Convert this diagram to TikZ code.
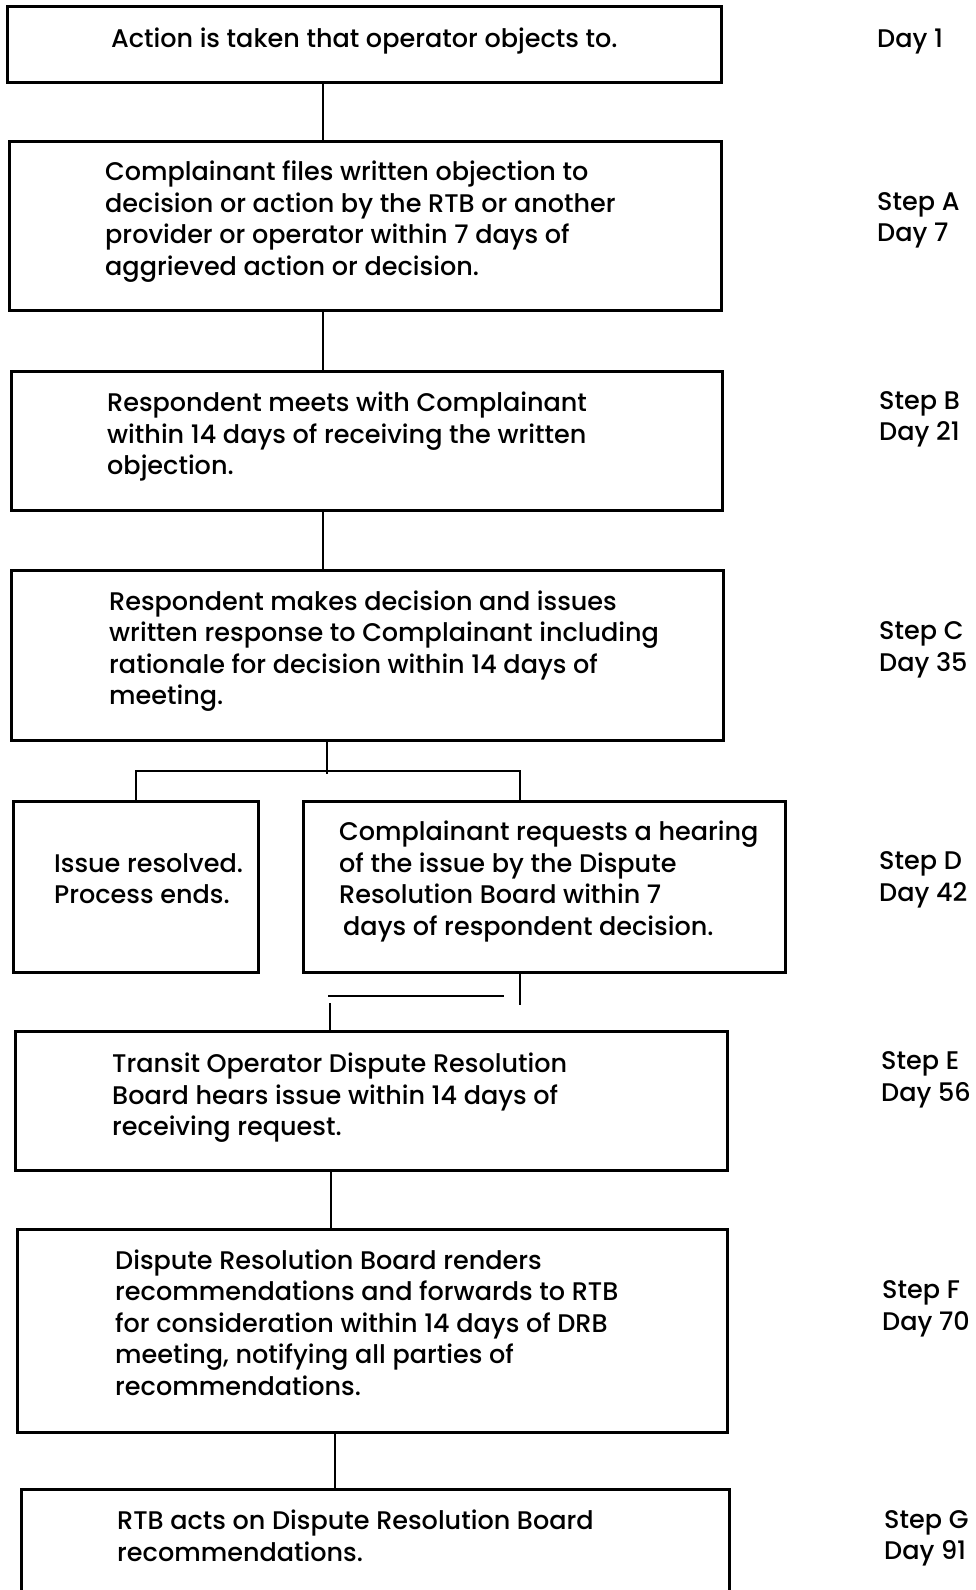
\documentclass[tikz,border=0pt]{standalone}
\usepackage{fontspec}
\setmainfont{Poppins}[UprightFont={* Medium}]
\begin{document}
\begin{tikzpicture}[x=1pt,y=-1pt,
  box/.style={draw, line width=2.5pt, inner sep=0pt, anchor=north west},
  txt/.style={align=left, inner sep=0pt, anchor=west, font=\fontsize{25.5}{31.5}\selectfont},
  lbl/.style={align=left, inner sep=0pt, anchor=west, font=\fontsize{25.5}{31.5}\selectfont},
  link/.style={line width=2.5pt}]
\useasboundingbox (0,0) rectangle (976,1590);
\clip (0,0) rectangle (976,1590);

% boxes
\node[box, minimum width=714pt, minimum height=76pt]  (s0)  at (6,5)     {};
\node[box, minimum width=712pt, minimum height=169pt] (sA)  at (8,140)   {};
\node[box, minimum width=711pt, minimum height=139pt] (sB)  at (10,370)  {};
\node[box, minimum width=712pt, minimum height=170pt] (sC)  at (10,569)  {};
\node[box, minimum width=245pt, minimum height=171pt] (sD1) at (12,800)  {};
\node[box, minimum width=482pt, minimum height=171pt] (sD2) at (302,800) {};
\node[box, minimum width=712pt, minimum height=139pt] (sE)  at (14,1030) {};
\node[box, minimum width=710pt, minimum height=203pt] (sF)  at (16,1228) {};
\node[box, minimum width=708pt, minimum height=160pt] (sG)  at (20,1488) {};

% box texts
\node[txt, anchor=center] (t0) at ([yshift=3pt]s0.center) {Action is taken that operator objects to.};
\node[txt] (tA) at ([xshift=97pt,yshift=4pt]sA.west) {Complainant files written objection to\\decision or action by the RTB or another\\provider or operator within 7 days of\\aggrieved action or decision.};
\node[txt] (tB) at ([xshift=97pt,yshift=4pt]sB.west) {Respondent meets with Complainant\\within 14 days of receiving the written\\objection.};
\node[txt] (tC) at ([xshift=99pt,yshift=4pt]sC.west) {Respondent makes decision and issues\\written response to Complainant including\\rationale for decision within 14 days of\\meeting.};
\node[txt] (tD1) at ([xshift=42pt,yshift=8pt]sD1.west) {Issue resolved.\\Process ends.};
\node[txt] (tD2) at ([xshift=37pt,yshift=5pt]sD2.west) {Complainant requests a hearing\\of the issue by the Dispute\\Resolution Board within 7\\\hspace*{4pt}days of respondent decision.};
\node[txt] (tE) at ([xshift=98pt,yshift=3pt]sE.west) {Transit Operator Dispute Resolution\\Board hears issue within 14 days of\\receiving request.};
\node[txt] (tF) at ([xshift=99pt,yshift=8pt]sF.west) {Dispute Resolution Board renders\\recommendations and forwards to RTB\\for consideration within 14 days of DRB\\meeting, notifying all parties of\\recommendations.};
\node[txt, anchor=north west] (tG) at ([xshift=97pt,yshift=-22pt]sG.north west) {RTB acts on Dispute Resolution Board\\recommendations.};

% step / day labels
\node[lbl] (l0) at (877,42)     {Day 1};
\node[lbl] (lA) at (877,220.5)  {Step A\\Day 7};
\node[lbl] (lB) at (879,419.5)  {Step B\\Day 21};
\node[lbl] (lC) at (879,650)    {Step C\\Day 35};
\node[lbl] (lD) at (879,880)    {Step D\\Day 42};
\node[lbl] (lE) at (881,1080)   {Step E\\Day 56};
\node[lbl] (lF) at (882,1309)   {Step F\\Day 70};
\node[lbl] (lG) at (884,1538.5) {Step G\\Day 91};

% connectors
\draw[link] ([xshift=317pt]s0.south west) -- ([xshift=315pt]sA.north west);
\draw[link] ([xshift=315pt]sA.south west) -- ([xshift=313pt]sB.north west);
\draw[link] ([xshift=313pt]sB.south west) -- ([xshift=313pt]sC.north west);
\draw[link] ([xshift=317pt]sC.south west) -- ++(0,32);
\draw[link] ([xshift=124pt]sD1.north west) -- ++(0,-29) -| ([xshift=218pt]sD2.north west);
\draw[link] ([xshift=218pt]sD2.south west) -- ++(0,31);
\coordinate (hL) at (328,996);
\coordinate (hR) at (504,996);
\draw[link] (hL) -- (hR);
\draw[link] ([xshift=316pt]sE.north west) -- ++(0,-27);
\draw[link] ([xshift=317pt]sE.south west) -- ([xshift=315pt]sF.north west);
\draw[link] ([xshift=319pt]sF.south west) -- ([xshift=315pt]sG.north west);
\end{tikzpicture}
\end{document}
